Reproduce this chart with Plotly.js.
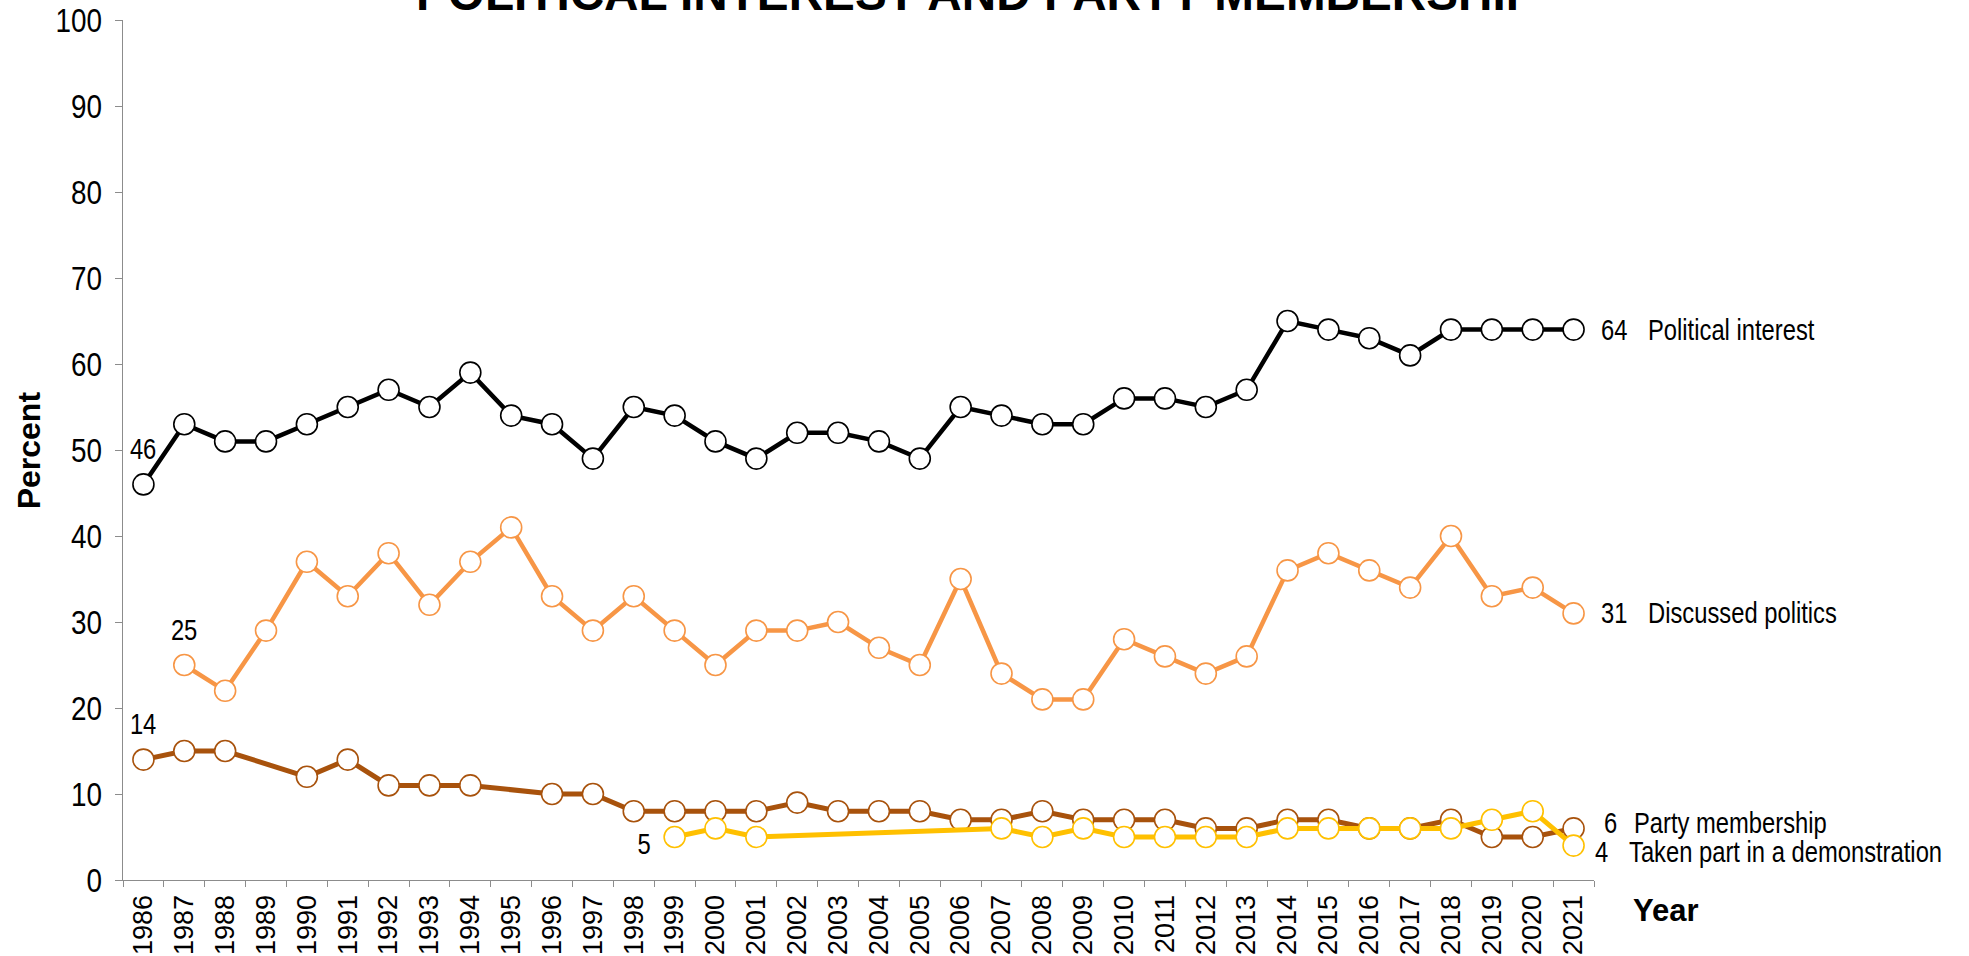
<!DOCTYPE html>
<html>
<head>
<meta charset="utf-8">
<script src="https://cdn.plot.ly/plotly-3.0.1.min.js"></script>
<style>
  html, body { margin: 0; padding: 0; background: #ffffff; }
  #chart { width: 1969px; height: 956px; }
</style>
</head>
<body>
<div id="chart"></div>
<script>
const years = ["1986","1987","1988","1989","1990","1991","1992","1993","1994","1995","1996","1997","1998","1999","2000","2001","2002","2003","2004","2005","2006","2007","2008","2009","2010","2011","2012","2013","2014","2015","2016","2017","2018","2019","2020","2021"];

const politicalInterest = [46,53,51,51,53,55,57,55,59,54,53,49,55,54,51,49,52,52,51,49,55,54,53,53,56,56,55,57,65,64,63,61,64,64,64,64];
const discussedPolitics = [null,25,22,29,37,33,38,32,37,41,33,29,33,29,25,29,29,30,27,25,35,24,21,21,28,26,24,26,36,38,36,34,40,33,34,31];
const partyMembership = [14,15,15,null,12,14,11,11,11,null,10,10,8,8,8,8,9,8,8,8,7,7,8,7,7,7,6,6,7,7,6,6,7,5,5,6];
const demonstration = [null,null,null,null,null,null,null,null,null,null,null,null,null,5,6,5,null,null,null,null,null,6,5,6,5,5,5,5,6,6,6,6,6,7,8,4];

const seriesNames = ["Political interest","Discussed politics","Party membership","Taken part in a demonstration"];
const titleText = "POLITICAL INTEREST AND PARTY MEMBERSHIP";

const seriesData = [politicalInterest, discussedPolitics, partyMembership, demonstration];
const colors = ["#000000", "#F79646", "#A8520C", "#FFC000"];
const lineWidths = [4.5, 4.5, 5, 5];

const SANS = "'Liberation Sans', Arial, sans-serif";
const CONDENSE = 0.82; // reference uses a narrow face for these texts

const traces = seriesData.map((vals, i) => ({
  type: "scatter",
  mode: "lines+markers",
  x: years,
  y: vals,
  name: seriesNames[i],
  connectgaps: true,
  line: { color: colors[i], width: lineWidths[i] },
  marker: { symbol: "circle", size: 21, color: "#ffffff", line: { color: colors[i], width: 1.6 } },
  hoverinfo: "x+y+name",
  cliponaxis: false
}));

function lastIdx(arr) { for (let i = arr.length - 1; i >= 0; i--) if (arr[i] !== null) return i; return -1; }
function firstIdx(arr) { for (let i = 0; i < arr.length; i++) if (arr[i] !== null) return i; return -1; }

const annSize = 29;
const narrowAnn = [];

// right-end label offsets (value, label) in pixels
const endOffsets = [
  { vx: 25, lx: 72, dy: 0 },
  { vx: 25, lx: 72, dy: 0 },
  { vx: 28, lx: 58, dy: 5 },
  { vx: 19, lx: 53, dy: -6 }
];

const annotations = [];
seriesData.forEach((vals, i) => {
  const k = lastIdx(vals);
  const v = vals[k];
  const o = endOffsets[i];
  narrowAnn.push(annotations.length);
  annotations.push({ x: k, y: v, xref: "x", yref: "y", text: String(v), showarrow: false, align: "left",
    xanchor: "left", yanchor: "middle", xshift: o.vx, yshift: o.dy, font: { family: SANS, size: annSize, color: "#000000" } });
  narrowAnn.push(annotations.length);
  annotations.push({ x: k, y: v, xref: "x", yref: "y", text: seriesNames[i], showarrow: false, align: "left",
    xanchor: "left", yanchor: "middle", xshift: o.lx, yshift: o.dy, font: { family: SANS, size: annSize, color: "#000000" } });
});

// start-of-series labels
const startOffsets = [
  { dx: 0, dy: 35 },
  { dx: 0, dy: 35 },
  { dx: 0, dy: 36 },
  { dx: -31, dy: -7 }
];
seriesData.forEach((vals, i) => {
  const k = firstIdx(vals);
  const o = startOffsets[i];
  narrowAnn.push(annotations.length);
  annotations.push({ x: k, y: vals[k], xref: "x", yref: "y", text: String(vals[k]), showarrow: false,
    xanchor: "center", yanchor: "middle", xshift: o.dx, yshift: o.dy, font: { family: SANS, size: annSize, color: "#000000" } });
});

// chart title (cut at the top edge as in the reference)
annotations.push({ x: 0.5807, y: 0.998, xref: "paper", yref: "paper", text: "<b>" + titleText + "</b>",
  showarrow: false, xanchor: "center", yanchor: "bottom", font: { family: SANS, size: 47.7, color: "#000000" } });

// axis titles
annotations.push({ x: (29 - 122.7) / 1471.3, y: 0.5, xref: "paper", yref: "paper", text: "<b>Percent</b>",
  showarrow: false, textangle: -90, xanchor: "center", yanchor: "middle", font: { family: SANS, size: 32, color: "#000000" } });
annotations.push({ x: (1631 - 122.7) / 1471.3, y: -(910 - 880) / 860, xref: "paper", yref: "paper", text: "<b>Year</b>",
  showarrow: false, xanchor: "left", yanchor: "middle", font: { family: SANS, size: 31, color: "#000000" } });

const layout = {
  width: 1969,
  height: 956,
  margin: { l: 123, r: 375, t: 20, b: 76, pad: 0 },
  paper_bgcolor: "#ffffff",
  plot_bgcolor: "#ffffff",
  showlegend: false,
  xaxis: {
    type: "category",
    range: [-0.5, 35.5],
    tickson: "boundaries",
    ticks: "outside",
    ticklen: 6,
    tickwidth: 1.25,
    tickcolor: "#8c8c8c",
    showline: true,
    linecolor: "#8c8c8c",
    linewidth: 1.25,
    showgrid: false,
    zeroline: false,
    tickangle: -90,
    ticklabelstandoff: 3,
    tickfont: { family: SANS, size: 27, color: "#000000" },
    fixedrange: true
  },
  yaxis: {
    range: [0, 100],
    dtick: 10,
    tick0: 0,
    ticks: "outside",
    ticklen: 7,
    tickwidth: 1.25,
    tickcolor: "#8c8c8c",
    showline: true,
    linecolor: "#8c8c8c",
    linewidth: 1.25,
    showgrid: false,
    zeroline: false,
    ticklabelstandoff: 6,
    tickfont: { family: SANS, size: 34, color: "#000000" },
    fixedrange: true
  },
  annotations: annotations
};

// horizontally condense a text element about an anchor ('start' | 'middle' | 'end')
function condenseText(el, factor, anchor) {
  try {
    const b = el.getBBox();
    if (!(b.width > 0)) return 0;
    const ax = anchor === "end" ? b.x + b.width : anchor === "middle" ? b.x + b.width / 2 : b.x;
    const prev = el.getAttribute("transform") || "";
    el.setAttribute("transform", (prev + " translate(" + ax.toFixed(2) + ",0) scale(" + factor + ",1) translate(" + (-ax).toFixed(2) + ",0)").trim());
    return b.width * (1 - factor);
  } catch (e) { return 0; }
}

Plotly.newPlot("chart", traces, layout, { displayModeBar: false }).then(gd => {
  gd.querySelectorAll(".ytick text").forEach(t => condenseText(t, CONDENSE, "end"));
  gd.querySelectorAll("g.annotation").forEach(g => {
    const idx = +g.getAttribute("data-index");
    if (narrowAnn.indexOf(idx) < 0) return;
    const ann = annotations[idx];
    const anchor = ann.xanchor === "center" ? "middle" : "start";
    g.querySelectorAll("text.annotation-text").forEach(t => {
      const saved = condenseText(t, CONDENSE, anchor);
      const rect = t.parentNode.querySelector("rect.bg");
      if (rect && saved > 0) {
        const rw = parseFloat(rect.getAttribute("width")) || 0;
        const rx = parseFloat(rect.getAttribute("x")) || 0;
        rect.setAttribute("width", Math.max(0, rw - saved).toFixed(2));
        if (anchor === "middle") rect.setAttribute("x", (rx + saved / 2).toFixed(2));
      }
    });
  });
});
</script>
</body>
</html>
